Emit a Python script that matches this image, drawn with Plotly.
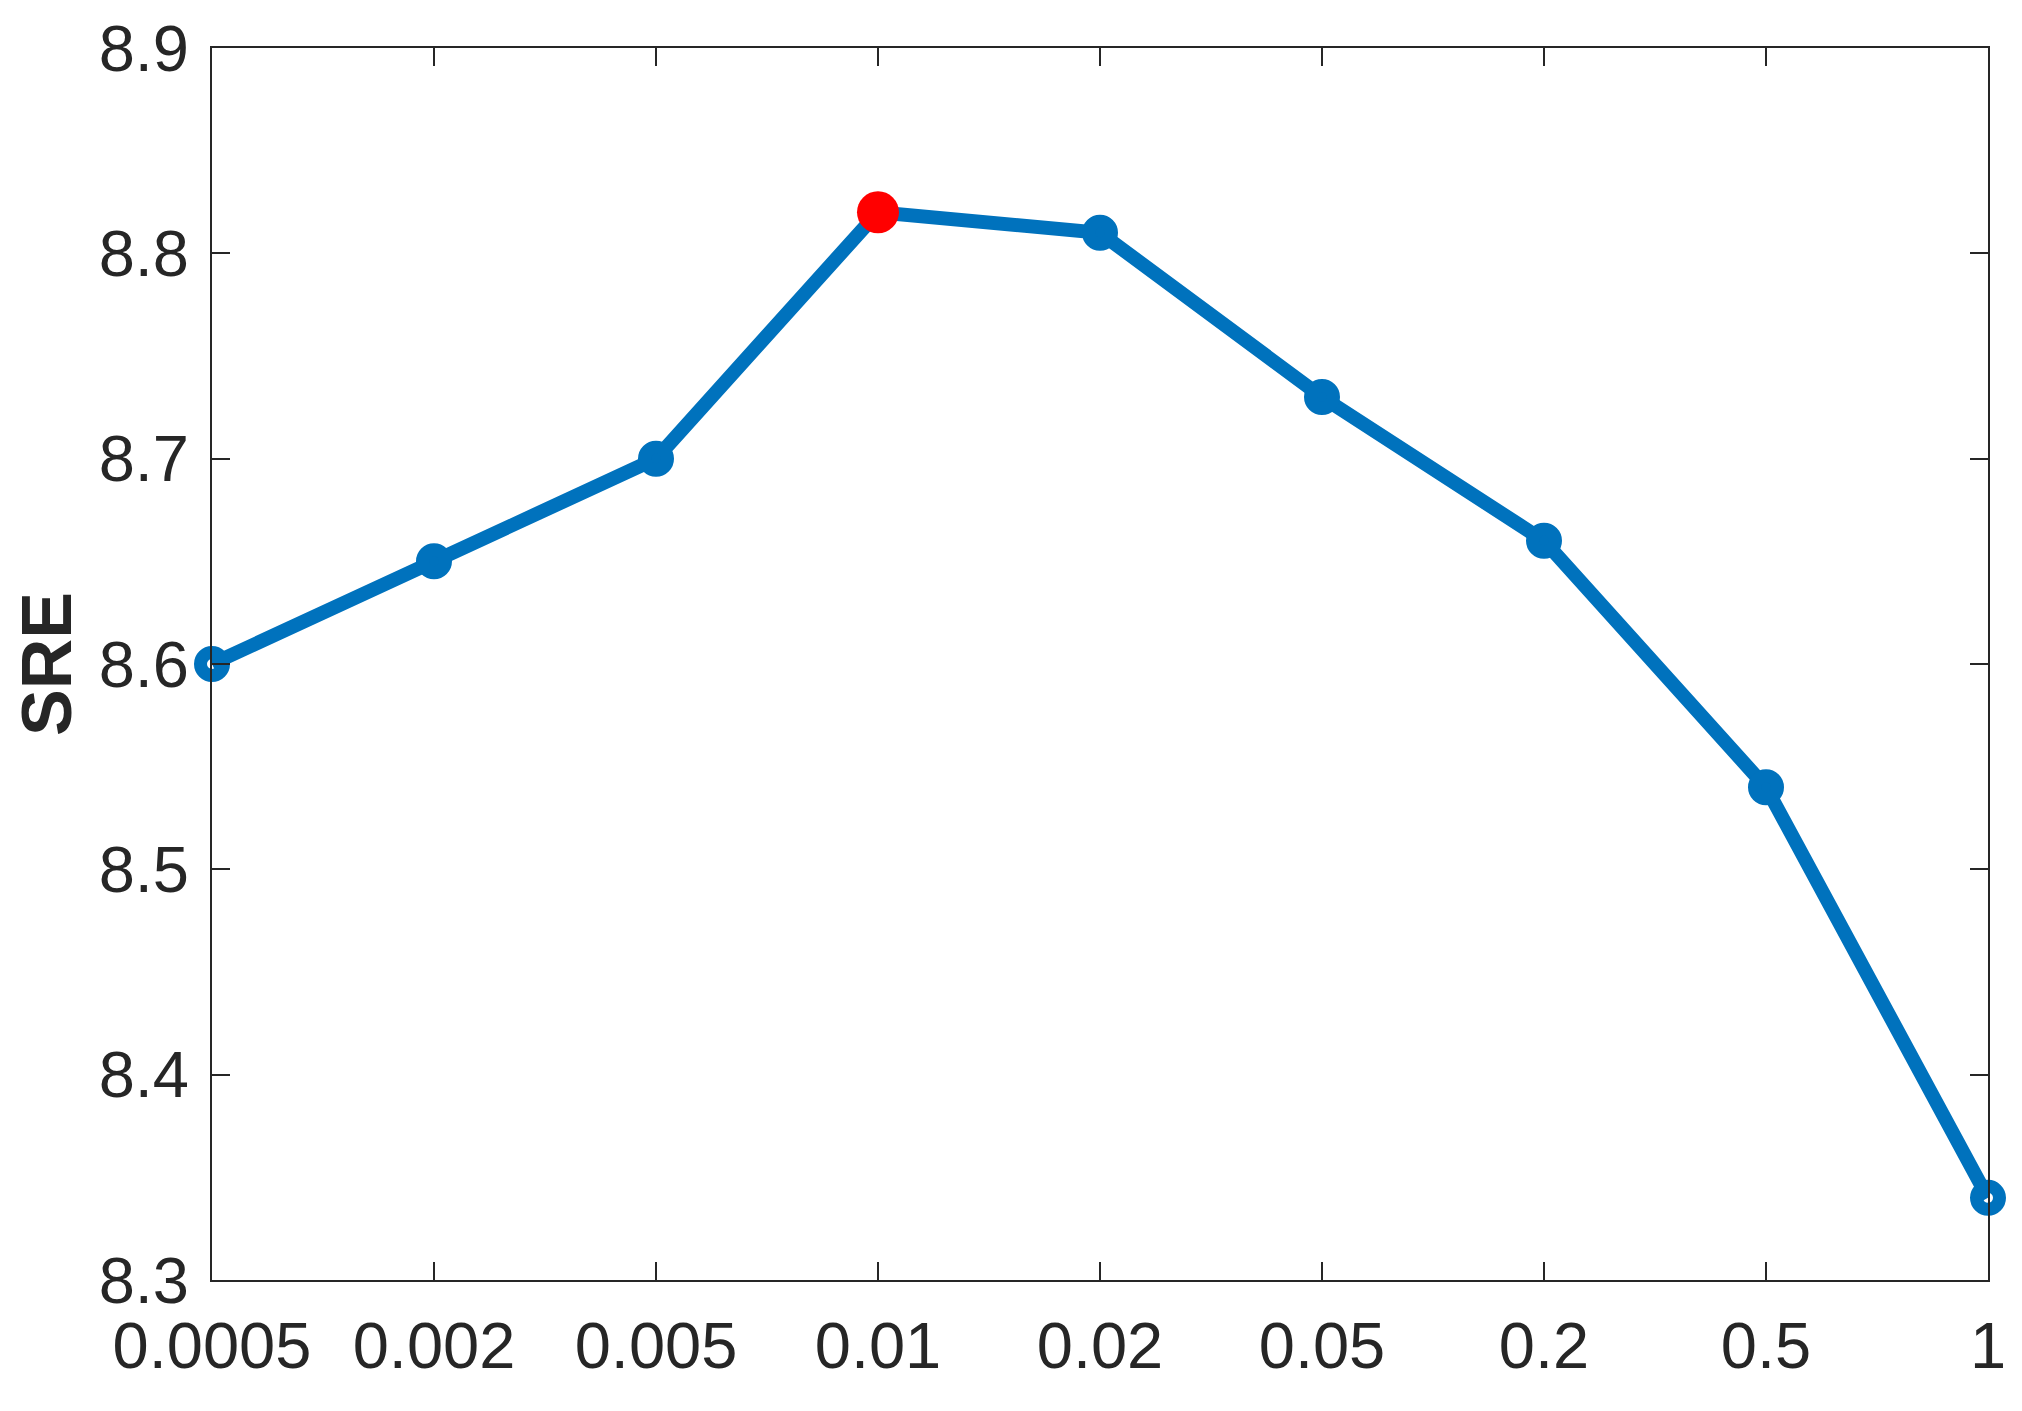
import plotly.graph_objects as go

categories = ["0.0005", "0.002", "0.005", "0.01", "0.02", "0.05", "0.2", "0.5", "1"]
sre_values = [8.60, 8.65, 8.70, 8.82, 8.81, 8.73, 8.66, 8.54, 8.34]
y_ticks = [8.3, 8.4, 8.5, 8.6, 8.7, 8.8, 8.9]

best_idx = max(range(len(sre_values)), key=lambda i: sre_values[i])
xpos = list(range(len(categories)))

BLUE = "#0072BD"
AX = "#262626"
FONT = "Liberation Sans, Arial, Helvetica, sans-serif"

fig = go.Figure()
fig.add_trace(go.Scatter(
    x=xpos, y=sre_values, mode="lines+markers",
    line=dict(color=BLUE, width=14),
    marker=dict(symbol="circle-open", size=23, color=BLUE, line=dict(color=BLUE, width=13)),
    cliponaxis=False, showlegend=False,
))
fig.add_trace(go.Scatter(
    x=[xpos[best_idx]], y=[sre_values[best_idx]], mode="markers",
    marker=dict(symbol="circle", size=42, color="#FF0000"),
    cliponaxis=False, showlegend=False,
))

axis_common = dict(
    showline=True, linecolor=AX, linewidth=2, mirror="ticks",
    ticks="inside", ticklen=18, tickwidth=2, tickcolor=AX,
    showgrid=False, zeroline=False, automargin=False,
    ticklabeloverflow="allow",
    tickfont=dict(family=FONT, size=65, color=AX),
)

fig.update_layout(
    width=2022, height=1411,
    margin=dict(l=204, r=42, t=40, b=139),
    paper_bgcolor="white", plot_bgcolor="white",
    xaxis=dict(
        range=[0, len(categories) - 1],
        tickmode="array", tickvals=xpos, ticktext=categories,
        ticklabelstandoff=8,
        **axis_common,
    ),
    yaxis=dict(
        range=[8.3, 8.9],
        tickmode="array", tickvals=y_ticks,
        ticktext=[f"{v:.1f}" for v in y_ticks],
        ticklabelstandoff=8,
        title=dict(text="<b>SRE</b>", font=dict(family=FONT, size=70, color=AX), standoff=22),
        **axis_common,
    ),
)

fig.write_html("out.html")
